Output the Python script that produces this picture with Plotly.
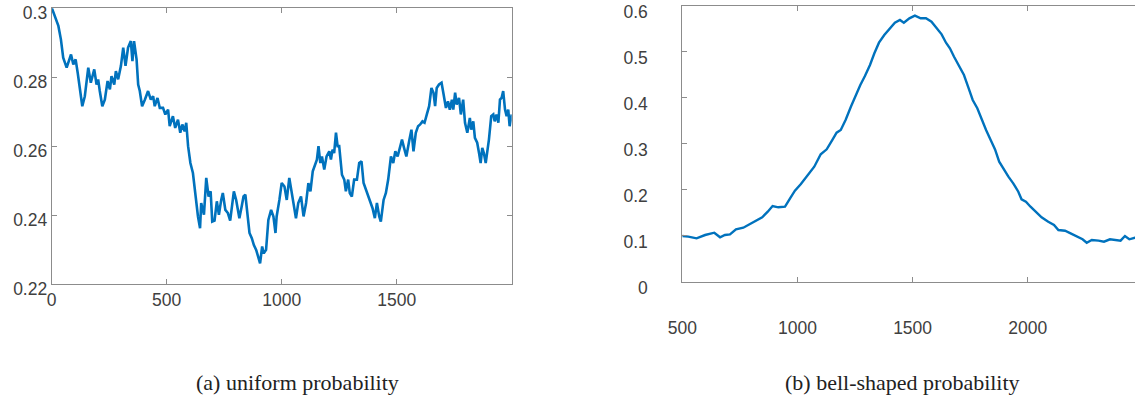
import plotly.graph_objects as go

# ---- data: (a) uniform probability ----
uni_x = [0, 14, 29, 40, 50, 65, 84, 94, 104, 113, 127, 133, 144, 159, 170, 185, 195, 202, 209, 220,
         231, 243, 253, 260, 272, 279, 289, 301, 311, 321, 332, 344, 351, 358, 369, 376, 383, 393, 405, 419,
         431, 441, 448, 460, 470, 484, 494, 506, 513, 527, 537, 549, 559, 568, 578, 585, 593, 603, 614, 621,
         629, 636, 645, 650, 662, 672, 682, 691, 698, 708, 718, 727, 737, 744, 755, 766, 776, 784, 792, 802,
         809, 816, 826, 834, 842, 850, 860, 870, 879, 889, 898, 906, 915, 922, 932, 942, 954, 964, 973, 978,
         990, 1000, 1012, 1022, 1033, 1045, 1055, 1062, 1072, 1084, 1095, 1106, 1116, 1125, 1135, 1145, 1153, 1160, 1168, 1175,
         1185, 1195, 1207, 1214, 1221, 1228, 1236, 1243, 1250, 1262, 1272, 1279, 1289, 1296, 1305, 1315, 1327, 1337, 1347, 1356,
         1366, 1376, 1388, 1395, 1405, 1414, 1424, 1431, 1443, 1453, 1463, 1475, 1485, 1494, 1504, 1514, 1523, 1532, 1542, 1554,
         1564, 1573, 1583, 1593, 1602, 1612, 1621, 1631, 1641, 1651, 1660, 1667, 1674, 1684, 1695, 1704, 1714, 1723, 1731, 1740,
         1746, 1754, 1761, 1771, 1779, 1789, 1797, 1807, 1818, 1824, 1833, 1840, 1850, 1858, 1865, 1872, 1879, 1887, 1894, 1901,
         1911, 1920, 1926, 1934, 1942, 1949, 1956, 1963, 1971, 1978, 1985, 1991, 2000]
uni_y = [0.3002, 0.2978, 0.2949, 0.2910, 0.2857, 0.2828, 0.2866, 0.2837, 0.2852, 0.2813, 0.2735, 0.2716, 0.2745, 0.2828, 0.2784, 0.2823, 0.2779, 0.2794, 0.2760, 0.2716,
         0.2735, 0.2789, 0.2765, 0.2803, 0.2779, 0.2818, 0.2794, 0.2833, 0.2886, 0.2833, 0.2886, 0.2905, 0.2847, 0.2905, 0.2852, 0.2779, 0.2760, 0.2716, 0.2735, 0.2760,
         0.2735, 0.2745, 0.2716, 0.2740, 0.2711, 0.2711, 0.2692, 0.2706, 0.2658, 0.2687, 0.2653, 0.2677, 0.2639, 0.2663, 0.2643, 0.2668, 0.2600, 0.2551, 0.2522, 0.2483,
         0.2425, 0.2396, 0.2362, 0.2435, 0.2401, 0.2508, 0.2454, 0.2469, 0.2381, 0.2384, 0.2440, 0.2401, 0.2444, 0.2464, 0.2415, 0.2406, 0.2384, 0.2435, 0.2469, 0.2444,
         0.2415, 0.2391, 0.2425, 0.2454, 0.2459, 0.2406, 0.2348, 0.2333, 0.2313, 0.2299, 0.2279, 0.2260, 0.2309, 0.2289, 0.2299, 0.2386, 0.2415, 0.2396, 0.2348, 0.2396,
         0.2444, 0.2493, 0.2483, 0.2444, 0.2508, 0.2454, 0.2415, 0.2391, 0.2435, 0.2454, 0.2396, 0.2435, 0.2493, 0.2469, 0.2527, 0.2546, 0.2561, 0.2600, 0.2551, 0.2570,
         0.2532, 0.2570, 0.2585, 0.2561, 0.2590, 0.2580, 0.2639, 0.2600, 0.2600, 0.2517, 0.2503, 0.2469, 0.2503, 0.2464, 0.2454, 0.2503, 0.2503, 0.2551, 0.2556, 0.2493,
         0.2474, 0.2459, 0.2435, 0.2420, 0.2391, 0.2435, 0.2396, 0.2381, 0.2444, 0.2464, 0.2503, 0.2570, 0.2551, 0.2585, 0.2570, 0.2600, 0.2619, 0.2595, 0.2570, 0.2614,
         0.2648, 0.2585, 0.2639, 0.2658, 0.2663, 0.2672, 0.2668, 0.2692, 0.2716, 0.2769, 0.2755, 0.2716, 0.2769, 0.2779, 0.2784, 0.2750, 0.2711, 0.2730, 0.2706, 0.2735,
         0.2706, 0.2755, 0.2721, 0.2740, 0.2692, 0.2735, 0.2668, 0.2639, 0.2682, 0.2648, 0.2672, 0.2624, 0.2610, 0.2580, 0.2551, 0.2595, 0.2580, 0.2551, 0.2580, 0.2619,
         0.2687, 0.2692, 0.2672, 0.2692, 0.2668, 0.2735, 0.2740, 0.2760, 0.2706, 0.2687, 0.2706, 0.2658, 0.2692]

# ---- data: (b) bell-shaped probability ----
bell_x = [500, 526, 562, 599, 639, 664, 685, 707, 733, 765, 794, 823, 847, 871, 892, 917, 946, 968, 989, 1015,
          1044, 1073, 1101, 1127, 1151, 1170, 1188, 1209, 1232, 1253, 1273, 1293, 1315, 1334, 1354, 1377, 1402, 1423, 1445, 1462,
          1486, 1510, 1535, 1558, 1582, 1604, 1626, 1645, 1662, 1680, 1703, 1723, 1742, 1761, 1781, 1800, 1819, 1839, 1858, 1876,
          1897, 1916, 1937, 1959, 1973, 1992, 2012, 2036, 2060, 2089, 2114, 2133, 2162, 2186, 2212, 2238, 2256, 2278, 2307, 2331,
          2357, 2386, 2403, 2422, 2441, 2466, 2500]
bell_y = [0.0993, 0.0980, 0.0943, 0.1015, 0.1065, 0.0965, 0.1015, 0.1030, 0.1139, 0.1174, 0.1254, 0.1341, 0.1400, 0.1522, 0.1646, 0.1617, 0.1630, 0.1813, 0.1978, 0.2124,
          0.2320, 0.2500, 0.2770, 0.2878, 0.3080, 0.3240, 0.3298, 0.3515, 0.3804, 0.4059, 0.4276, 0.4472, 0.4711, 0.4965, 0.5196, 0.5363, 0.5522, 0.5630, 0.5689, 0.5630,
          0.5726, 0.5783, 0.5726, 0.5726, 0.5652, 0.5509, 0.5378, 0.5196, 0.5074, 0.4891, 0.4689, 0.4493, 0.4226, 0.3950, 0.3770, 0.3515, 0.3298, 0.3080, 0.2876, 0.2609,
          0.2428, 0.2283, 0.2139, 0.1957, 0.1791, 0.1739, 0.1630, 0.1522, 0.1400, 0.1304, 0.1233, 0.1124, 0.1109, 0.1052, 0.0978, 0.0922, 0.0848, 0.0907, 0.0893, 0.0870,
          0.0922, 0.0907, 0.0893, 0.0993, 0.0922, 0.0957, 0.1000]

uni_xticks = [0, 500, 1000, 1500]
uni_yticks = [0.22, 0.24, 0.26, 0.28, 0.3]
uni_yticktext = ["0.22", "0.24", "0.26", "0.28", "0.3"]
bell_xticks = [500, 1000, 1500, 2000]
bell_yticks = [0, 0.1, 0.2, 0.3, 0.4, 0.5, 0.6]
bell_yticktext = ["0", "0.1", "0.2", "0.3", "0.4", "0.5", "0.6"]
captions = ["(a) uniform probability", "(b) bell-shaped probability"]

W, H = 1135, 401
LINE = "#0072BD"
AX = "#8c8c8c"
TXT = "#404040"
tickfont = dict(family="Liberation Sans, Arial, sans-serif", size=17.5, color=TXT)

fig = go.Figure()
fig.add_trace(go.Scatter(x=uni_x, y=uni_y, mode="lines", line=dict(color=LINE, width=2.6),
                         xaxis="x", yaxis="y", showlegend=False, hoverinfo="skip"))
fig.add_trace(go.Scatter(x=bell_x, y=bell_y, mode="lines", line=dict(color=LINE, width=2.4),
                         xaxis="x2", yaxis="y2", showlegend=False, hoverinfo="skip"))

common = dict(showgrid=False, zeroline=False, showline=True, linecolor=AX, linewidth=1,
              ticks="inside", ticklen=5, tickcolor=AX, tickwidth=1, tickfont=tickfont,
              automargin=False, ticklabeloverflow="allow")

fig.update_layout(
    width=W, height=H,
    margin=dict(l=0, r=0, t=0, b=0, pad=0),
    paper_bgcolor="white", plot_bgcolor="white",
    xaxis=dict(domain=[51.7 / W, 511.7 / W], range=[0, 2000], tickvals=uni_xticks,
               mirror="ticks", anchor="y", **common),
    yaxis=dict(domain=[1 - 284 / H, 1 - 8.3 / H], range=[0.22, 0.30001], tickvals=uni_yticks,
               ticktext=uni_yticktext, mirror="ticks", anchor="x", ticklabelshift=5, **common),
    xaxis2=dict(domain=[682.3 / W, 1.0], range=[500, 500 + (W - 682.3) / 0.2303], tickvals=bell_xticks,
                mirror="ticks", anchor="y2", ticklabelstandoff=30, **common),
    yaxis2=dict(domain=[1 - 281.7 / H, 1 - 5.7 / H], range=[0, 0.60001], tickvals=bell_yticks,
                ticktext=bell_yticktext, mirror=False, anchor="x2", ticklabelshift=6,
                ticklabelstandoff=30, **common),
)

cap_font = dict(family="Liberation Serif, Times New Roman, serif", size=22, color="#222222")
fig.add_annotation(text=captions[0], x=297 / W, y=1 - 382 / H, xref="paper", yref="paper",
                   showarrow=False, xanchor="center", yanchor="middle", font=cap_font)
fig.add_annotation(text=captions[1], x=902 / W, y=1 - 382 / H, xref="paper", yref="paper",
                   showarrow=False, xanchor="center", yanchor="middle", font=cap_font)

fig.write_html("out.html", config={"displayModeBar": False},
               post_script="document.body.style.margin='0';document.body.style.padding='0';")
